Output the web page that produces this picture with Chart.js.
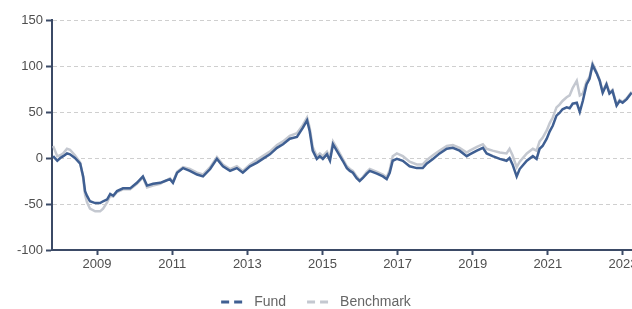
<!DOCTYPE html>
<html>
<head>
<meta charset="utf-8">
<script src="https://cdn.jsdelivr.net/npm/chart.js@4/dist/chart.umd.min.js"></script>
<style>
  html, body { margin: 0; padding: 0; background: #fff; overflow: hidden; }
</style>
</head>
<body>
<canvas id="grafico" width="632" height="309"></canvas>
<script>
  // datas em ano decimal
  const dates = [
    2007.83, 2007.94, 2008.02, 2008.10, 2008.20, 2008.28, 2008.41, 2008.55, 2008.63, 2008.68,
    2008.73, 2008.81, 2008.95, 2009.08, 2009.16, 2009.27, 2009.35, 2009.43, 2009.53, 2009.69,
    2009.88, 2010.06, 2010.22, 2010.33, 2010.49, 2010.68, 2010.81, 2010.94, 2011.02, 2011.13,
    2011.29, 2011.47, 2011.66, 2011.82, 2012.01, 2012.19, 2012.35, 2012.54, 2012.72, 2012.88,
    2013.07, 2013.26, 2013.41, 2013.60, 2013.79, 2013.95, 2014.13, 2014.32, 2014.48, 2014.59,
    2014.66, 2014.74, 2014.85, 2014.93, 2015.01, 2015.12, 2015.20, 2015.28, 2015.38, 2015.54,
    2015.65, 2015.73, 2015.81, 2015.91, 2015.99, 2016.07, 2016.18, 2016.26, 2016.45, 2016.61,
    2016.71, 2016.79, 2016.87, 2016.98, 2017.14, 2017.32, 2017.51, 2017.67, 2017.78, 2017.94,
    2018.12, 2018.31, 2018.47, 2018.65, 2018.84, 2018.92, 2019.11, 2019.27, 2019.37, 2019.53,
    2019.72, 2019.90, 2019.98, 2020.06, 2020.17, 2020.25, 2020.44, 2020.60, 2020.70, 2020.78,
    2020.86, 2020.97, 2021.05, 2021.13, 2021.23, 2021.31, 2021.39, 2021.50, 2021.58, 2021.66,
    2021.77, 2021.85, 2021.93, 2022.03, 2022.11, 2022.19, 2022.30, 2022.38, 2022.46, 2022.56,
    2022.64, 2022.72, 2022.83, 2022.91, 2022.99, 2023.10, 2023.23
  ];

  const fund = [
    2, -3, 0, 2, 5, 4, 0, -6, -20, -36,
    -41, -47, -49, -49, -47, -45, -39, -41, -36, -33,
    -33, -27, -20, -30, -28, -27, -25, -23, -27, -16,
    -11, -14, -18, -20, -12, -1, -9, -14, -11, -16,
    -9, -5, -1, 4, 11, 15, 21, 23, 33, 41,
    29, 8, -1, 2, -1, 4, -3, 15, 8, -3,
    -11, -14, -16, -22, -25, -22, -17, -14, -17, -20,
    -23, -16, -3, -1, -3, -9, -11, -11, -6, -1,
    5, 10, 11, 8, 2, 4, 8, 11, 5, 2,
    -1, -3, 0, -7, -20, -12, -3, 2, -1, 10,
    13, 21, 29, 35, 46, 49, 53, 55, 54, 59,
    60, 50, 62, 80, 86, 101, 92, 84, 71, 80,
    70, 73, 57, 62, 60, 64, 71
  ];

  const benchmark = [
    13, 2, 3, 5, 10, 9, 3, -5, -22, -40,
    -48, -55, -58, -58, -55, -48, -41, -42, -37, -34,
    -34, -28, -21, -32, -30, -28, -25, -22, -26, -15,
    -10, -12, -16, -18, -10, 1, -7, -12, -9, -14,
    -7, -2, 2, 7, 14, 18, 24, 27, 36, 44,
    33, 12, 2, 5, 2, 7, 1, 18, 11, -1,
    -9, -12, -14, -20, -24, -21, -15, -12, -15, -18,
    -21, -13, 2, 5, 2, -4, -7, -7, -2, 3,
    8, 13, 14, 11, 6, 8, 12, 15, 10, 8,
    6, 5, 10, 3, -10, -4, 5, 10, 8, 18,
    22, 30, 38, 44, 55, 58, 62, 66, 68, 76,
    84, 68, 70, 83, 88, 103, 93, 85, 72, 81,
    71, 74, 58, 63, 61, 65, 72
  ];

  const yearTicks = [2009, 2011, 2013, 2015, 2017, 2019, 2021, 2023];
  const valueTicks = [-100, -50, 0, 50, 100, 150];

  const AXIS = "#3b4a66";
  const TXT = "#4f4f4f";
  const FONT = "'Liberation Sans', Arial, sans-serif";

  const toPoints = vals => dates.map((d, i) => ({ x: d, y: vals[i] }));

  new Chart(document.getElementById("grafico"), {
    type: "line",
    data: {
      datasets: [
        {
          label: "Fund",
          data: toPoints(fund),
          borderColor: "#3f5f92",
          borderWidth: 2.5,
          pointRadius: 0,
          tension: 0
        },
        {
          label: "Benchmark",
          data: toPoints(benchmark),
          borderColor: "#c4c8d0",
          borderWidth: 2.5,
          pointRadius: 0,
          tension: 0
        }
      ]
    },
    options: {
      responsive: false,
      animation: false,
      devicePixelRatio: 1,
      layout: { padding: { top: 20, right: 0, left: 0, bottom: -10 } },
      plugins: {
        tooltip: { enabled: false },
        legend: {
          position: "bottom",
          labels: {
            usePointStyle: true,
            pointStyleWidth: 26,
            padding: 21,
            color: "#666",
            font: { family: FONT, size: 14 },
            generateLabels(chart) {
              const items = Chart.defaults.plugins.legend.labels.generateLabels(chart);
              items.forEach(it => {
                it.pointStyle = "line";
                it.lineDash = [8, 5];
                it.lineWidth = 3;
              });
              return items;
            }
          }
        }
      },
      scales: {
        x: {
          type: "linear",
          min: 2007.8,
          max: 2023.24,
          afterBuildTicks: s => { s.ticks = yearTicks.map(v => ({ value: v })); },
          afterFit: s => { s.paddingLeft = 0; s.paddingRight = 0; s.height = 24; },
          ticks: {
            autoSkip: false,
            maxRotation: 0,
            padding: 2,
            color: TXT,
            font: { family: FONT, size: 13 },
            callback: v => String(v)
          },
          grid: {
            drawOnChartArea: false,
            drawTicks: true,
            tickLength: 5,
            tickColor: AXIS,
            tickWidth: 2
          },
          border: { display: true, color: AXIS, width: 2 }
        },
        y: {
          min: -100,
          max: 150,
          afterBuildTicks: s => { s.ticks = valueTicks.map(v => ({ value: v })); },
          afterFit: s => { s.width = 52; },
          ticks: {
            padding: 3,
            color: TXT,
            font: { family: FONT, size: 13 },
            callback: v => String(v)
          },
          grid: {
            color: "#cfcfcf",
            lineWidth: 1,
            tickLength: 6,
            tickColor: AXIS,
            tickWidth: 2
          },
          border: { display: true, color: AXIS, width: 2, dash: [4, 3] }
        }
      }
    }
  });
</script>
</body>
</html>
